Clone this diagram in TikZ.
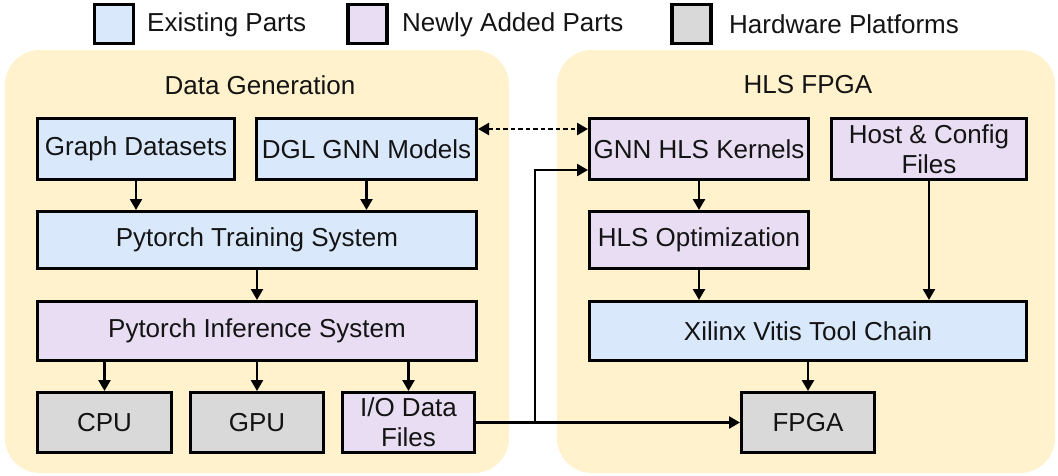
\documentclass[tikz,border=0pt]{standalone}
\usepackage{fontspec}
\setmainfont{Liberation Sans}
\usetikzlibrary{arrows.meta,positioning}
\definecolor{existfill}{HTML}{DAE8FC}
\definecolor{newfill}{HTML}{E8DDF2}
\definecolor{hwfill}{HTML}{D9D9D9}
\definecolor{panelfill}{HTML}{FFF2CC}
\definecolor{inkcol}{HTML}{141414}
\begin{document}
\begin{tikzpicture}[x=1pt,y=-1pt,
  font=\fontsize{26}{30}\selectfont, text=inkcol,
  box/.style={draw=black, line width=3pt, align=center, inner sep=0pt},
  existbox/.style={box, fill=existfill},
  newbox/.style={box, fill=newfill},
  hwbox/.style={box, fill=hwfill},
  panel/.style={fill=panelfill, draw=none, rounded corners=35pt},
  flow/.style={line width=2.5pt, -{Triangle[length=11pt,width=12pt]}},
  dflow/.style={line width=2.5pt, dash pattern=on 4.5pt off 3pt, {Triangle[length=11pt,width=12pt]}-{Triangle[length=11pt,width=12pt]}},
  legend/.style={anchor=west, inner sep=0pt}
]
\useasboundingbox (0,0) rectangle (1058,475);

% legend
\node[existbox, line width=3.5pt, minimum width=39pt, minimum height=39pt] (lg1) at (114,24) {};
\node[legend] (lt1) at (147,24.5) {Existing Parts};
\node[newbox, line width=3.5pt, minimum width=39pt, minimum height=39pt] (lg2) at (367.5,24) {};
\node[legend] (lt2) at (402,24.5) {Newly Added Parts};
\node[hwbox, line width=3.5pt, minimum width=39pt, minimum height=39pt] (lg3) at (691.5,24) {};
\node[legend] (lt3) at (729,24.5) {Hardware Platforms};

% panels
\fill[panel] (5,50) rectangle (509,473);
\fill[panel] (557,50) rectangle (1055,473);
\node (t1) at (260,85) {Data Generation};
\node (t2) at (808,85) {HLS FPGA};

% data generation side
\node[existbox, minimum width=197pt, minimum height=61pt] (gd) at (136,149) {Graph Datasets};
\node[existbox, minimum width=220pt, minimum height=61pt] (dgl) at (366.5,149) {DGL GNN Models};
\node[existbox, minimum width=439pt, minimum height=57pt] (tr) at (257,240) {Pytorch Training System};
\node[newbox, minimum width=439pt, minimum height=59pt] (inf) at (257,331) {Pytorch Inference System};
\node[hwbox, minimum width=134pt, minimum height=60pt] (cpu) at (104.5,422.5) {CPU};
\node[hwbox, minimum width=133pt, minimum height=60pt] (gpu) at (257,422.5) {GPU};
\node[newbox, minimum width=132pt, minimum height=60pt] (io) at (408.5,422.5) {I/O Data\\Files};

% HLS FPGA side
\node[newbox, minimum width=219pt, minimum height=61pt] (gnn) at (699,149) {GNN HLS Kernels};
\node[newbox, minimum width=195pt, minimum height=61pt] (host) at (929,149) {Host \& Config\\Files};
\node[newbox, minimum width=219pt, minimum height=57pt] (opt) at (699,240) {HLS Optimization};
\node[existbox, minimum width=437pt, minimum height=59pt] (vitis) at (808,331) {Xilinx Vitis Tool Chain};
\node[hwbox, minimum width=133pt, minimum height=60pt] (fpga) at (808,422.5) {FPGA};

% connectors
\draw[flow] (gd) -- (gd |- tr.north);
\draw[flow] (dgl) -- (dgl |- tr.north);
\draw[flow] (tr) -- (inf);
\draw[flow] (inf.south -| cpu) -- (cpu);
\draw[flow] (inf.south -| gpu) -- (gpu);
\draw[flow] (inf.south -| io) -- (io);
\draw[dflow] ([yshift=20pt]dgl.east) -- ([yshift=20pt]gnn.west);
\draw[flow] (gnn) -- (opt);
\draw[flow] (opt.south) -- (opt.south |- vitis.north);
\draw[flow] (host) -- (host |- vitis.north);
\draw[flow] (vitis) -- (fpga);
\coordinate (split) at (535,422.5);
\draw[flow] (io.east) -- (fpga.west);
\draw[flow] (split) |- ([yshift=-21pt]gnn.west);
\end{tikzpicture}
\end{document}
